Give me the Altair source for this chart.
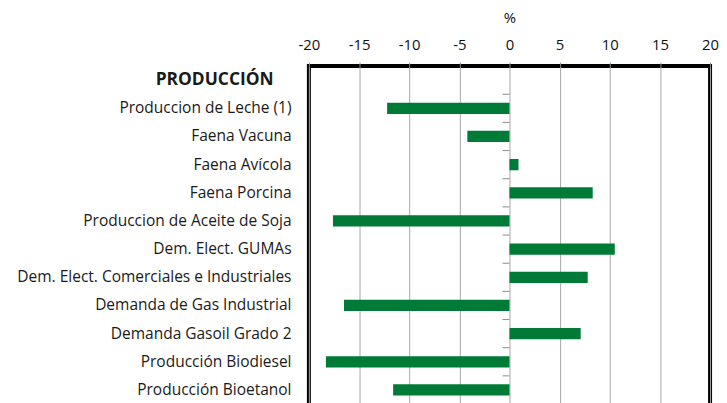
import altair as alt
import pandas as pd

header = "PRODUCCIÓN"
categories = [
    "Produccion de Leche (1)",
    "Faena Vacuna\u00a0",
    "Faena Avícola\u00a0",
    "Faena Porcina\u00a0",
    "Produccion de Aceite de Soja",
    "Dem. Elect. GUMAs\u00a0\u00a0",
    "Dem. Elect. Comerciales e Industriales",
    "Demanda de Gas Industrial\u00a0",
    "Demanda Gasoil Grado 2",
    "Producción Biodiesel",
    "Producción Bioetanol\u00a0",
]
values = [-12.2, -4.2, 0.9, 8.3, -17.6, 10.5, 7.8, -16.5, 7.1, -18.3, -11.6]
x_ticks = [-20, -15, -10, -5, 0, 5, 10, 15, 20]

domain = [header] + categories + [""]
df = pd.DataFrame({"cat": categories, "val": values})

STEP = 28.36
N = len(domain)
FONT = "Open Sans"

yscale = alt.Scale(domain=domain, paddingInner=0.6, paddingOuter=0.3)
xscale = alt.Scale(domain=[-20, 20], nice=False)

bars = alt.Chart(df).mark_bar(color="#007A37").encode(
    x=alt.X("val:Q", scale=xscale,
            axis=alt.Axis(orient="top", values=x_ticks, title="%",
                          labelExpr="toString(datum.value)", labelFlush=False,
                          grid=True, gridColor="#a6a6a6", gridWidth=1,
                          domain=False, tickColor="#8c8c8c", tickSize=4,
                          labelPadding=10, labelFontSize=15, labelColor="#111",
                          labelFont=FONT, titleFont=FONT, titleFontSize=15,
                          titleFontWeight="normal", titleColor="#111",
                          titlePadding=12)),
    x2=alt.datum(0),
    y=alt.Y("cat:N", scale=yscale, sort=domain,
            axis=alt.Axis(title=None, ticks=False, domain=False, grid=False,
                          labelFont=FONT, labelColor="#1a1a1a",
                          labelLimit=320,
                          labelFontSize={"condition": {"test": f"datum.value == '{header}'", "value": 17.5}, "value": 15.6},
                          labelFontWeight={"condition": {"test": f"datum.value == '{header}'", "value": "bold"}, "value": "normal"},
                          labelPadding={"condition": {"test": f"datum.value == '{header}'", "value": 36}, "value": 18},
                          minExtent=303, maxExtent=303)),
)

tick_df = pd.DataFrame({"cat": categories + [""], "x0": 0.0, "x1": -0.7})
ticks = alt.Chart(tick_df).mark_rule(color="#8c8c8c", strokeWidth=1, yOffset=-STEP / 2).encode(
    x=alt.X("x0:Q", scale=xscale),
    x2="x1:Q",
    y=alt.Y("cat:N", scale=yscale, sort=domain),
)

chart = alt.layer(bars, ticks).properties(
    width=404, height=STEP * N,
    background="white",
    padding={"left": 0, "top": 1, "right": 0, "bottom": 0},
).configure_view(stroke="black", strokeWidth=4)

chart.save("out.html", embed_options={"renderer": "svg", "actions": False})
